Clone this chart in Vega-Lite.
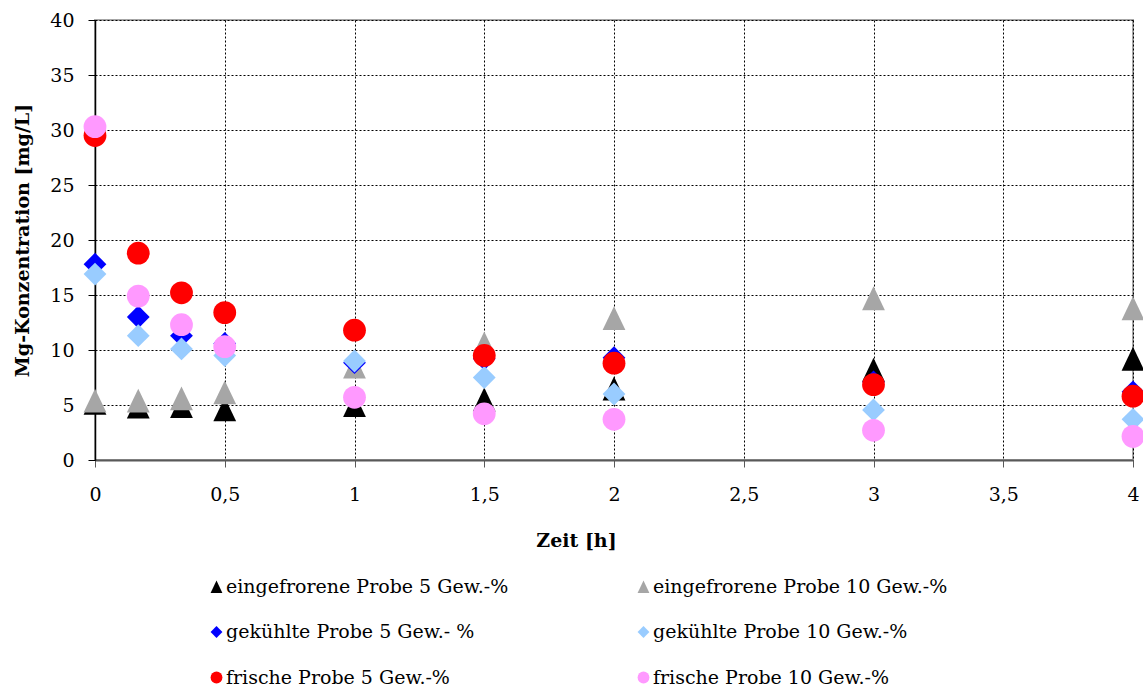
{
  "$schema": "https://vega.github.io/schema/vega-lite/v6.json",
  "autosize": {"type": "none"},
  "padding": {"left": 95, "top": 20, "right": 10, "bottom": 231},
  "width": 1038,
  "height": 440,
  "background": "white",
  "config": {
    "view": {"stroke": "#a6a6a6", "strokeWidth": 2},
    "font": "DejaVu Serif"
  },
  "data": {
    "values": [
      {"t": 0, "v": 5.2, "s": "eingefrorene Probe 5 Gew.-%"},
      {"t": 0.1667, "v": 4.85, "s": "eingefrorene Probe 5 Gew.-%"},
      {"t": 0.3333, "v": 4.9, "s": "eingefrorene Probe 5 Gew.-%"},
      {"t": 0.5, "v": 4.6, "s": "eingefrorene Probe 5 Gew.-%"},
      {"t": 1, "v": 5.0, "s": "eingefrorene Probe 5 Gew.-%"},
      {"t": 1.5, "v": 5.5, "s": "eingefrorene Probe 5 Gew.-%"},
      {"t": 2, "v": 6.5, "s": "eingefrorene Probe 5 Gew.-%"},
      {"t": 3, "v": 8.2, "s": "eingefrorene Probe 5 Gew.-%"},
      {"t": 4, "v": 9.2, "s": "eingefrorene Probe 5 Gew.-%"},
      {"t": 0, "v": 5.4, "s": "eingefrorene Probe 10 Gew.-%"},
      {"t": 0.1667, "v": 5.4, "s": "eingefrorene Probe 10 Gew.-%"},
      {"t": 0.3333, "v": 5.6, "s": "eingefrorene Probe 10 Gew.-%"},
      {"t": 0.5, "v": 6.15, "s": "eingefrorene Probe 10 Gew.-%"},
      {"t": 1, "v": 8.5, "s": "eingefrorene Probe 10 Gew.-%"},
      {"t": 1.5, "v": 10.6, "s": "eingefrorene Probe 10 Gew.-%"},
      {"t": 2, "v": 12.9, "s": "eingefrorene Probe 10 Gew.-%"},
      {"t": 3, "v": 14.7, "s": "eingefrorene Probe 10 Gew.-%"},
      {"t": 4, "v": 13.8, "s": "eingefrorene Probe 10 Gew.-%"},
      {"t": 0, "v": 17.8, "s": "gekühlte Probe 5 Gew.- %"},
      {"t": 0.1667, "v": 13.0, "s": "gekühlte Probe 5 Gew.- %"},
      {"t": 0.3333, "v": 11.3, "s": "gekühlte Probe 5 Gew.- %"},
      {"t": 0.5, "v": 10.6, "s": "gekühlte Probe 5 Gew.- %"},
      {"t": 1, "v": 8.85, "s": "gekühlte Probe 5 Gew.- %"},
      {"t": 1.5, "v": 9.2, "s": "gekühlte Probe 5 Gew.- %"},
      {"t": 2, "v": 9.3, "s": "gekühlte Probe 5 Gew.- %"},
      {"t": 3, "v": 7.1, "s": "gekühlte Probe 5 Gew.- %"},
      {"t": 4, "v": 6.2, "s": "gekühlte Probe 5 Gew.- %"},
      {"t": 0, "v": 16.9, "s": "gekühlte Probe 10 Gew.-%"},
      {"t": 0.1667, "v": 11.3, "s": "gekühlte Probe 10 Gew.-%"},
      {"t": 0.3333, "v": 10.1, "s": "gekühlte Probe 10 Gew.-%"},
      {"t": 0.5, "v": 9.5, "s": "gekühlte Probe 10 Gew.-%"},
      {"t": 1, "v": 9.0, "s": "gekühlte Probe 10 Gew.-%"},
      {"t": 1.5, "v": 7.5, "s": "gekühlte Probe 10 Gew.-%"},
      {"t": 2, "v": 6.0, "s": "gekühlte Probe 10 Gew.-%"},
      {"t": 3, "v": 4.55, "s": "gekühlte Probe 10 Gew.-%"},
      {"t": 4, "v": 3.7, "s": "gekühlte Probe 10 Gew.-%"},
      {"t": 0, "v": 29.5, "s": "frische Probe 5 Gew.-%"},
      {"t": 0.1667, "v": 18.8, "s": "frische Probe 5 Gew.-%"},
      {"t": 0.3333, "v": 15.2, "s": "frische Probe 5 Gew.-%"},
      {"t": 0.5, "v": 13.4, "s": "frische Probe 5 Gew.-%"},
      {"t": 1, "v": 11.8, "s": "frische Probe 5 Gew.-%"},
      {"t": 1.5, "v": 9.5, "s": "frische Probe 5 Gew.-%"},
      {"t": 2, "v": 8.8, "s": "frische Probe 5 Gew.-%"},
      {"t": 3, "v": 6.85, "s": "frische Probe 5 Gew.-%"},
      {"t": 4, "v": 5.8, "s": "frische Probe 5 Gew.-%"},
      {"t": 0, "v": 30.3, "s": "frische Probe 10 Gew.-%"},
      {"t": 0.1667, "v": 14.9, "s": "frische Probe 10 Gew.-%"},
      {"t": 0.3333, "v": 12.3, "s": "frische Probe 10 Gew.-%"},
      {"t": 0.5, "v": 10.3, "s": "frische Probe 10 Gew.-%"},
      {"t": 1, "v": 5.7, "s": "frische Probe 10 Gew.-%"},
      {"t": 1.5, "v": 4.2, "s": "frische Probe 10 Gew.-%"},
      {"t": 2, "v": 3.7, "s": "frische Probe 10 Gew.-%"},
      {"t": 3, "v": 2.7, "s": "frische Probe 10 Gew.-%"},
      {"t": 4, "v": 2.15, "s": "frische Probe 10 Gew.-%"}
    ]
  },
  "mark": {"type": "point", "filled": true, "opacity": 1, "size": 520},
  "encoding": {
    "x": {
      "field": "t",
      "type": "quantitative",
      "scale": {"domain": [0, 4], "nice": false, "zero": false},
      "axis": {
        "title": "Zeit [h]",
        "values": [0, 0.5, 1, 1.5, 2, 2.5, 3, 3.5, 4],
        "labelExpr": "replace(format(datum.value, '~g'), '.', ',')",
        "labelFont": "DejaVu Serif",
        "labelFontSize": 19,
        "labelColor": "#000",
        "labelPadding": 18,
        "labelFlush": false,
        "tickSize": 7,
        "tickColor": "#595959",
        "tickWidth": 1,
        "domainColor": "#595959",
        "domainWidth": 2,
        "grid": true,
        "gridColor": "#000",
        "gridDash": [2, 2],
        "gridWidth": 1,
        "gridOpacity": 1,
        "titleFont": "DejaVu Serif",
        "titleFontSize": 19,
        "titleFontWeight": "bold",
        "titleColor": "#000",
        "titleX": 481,
        "titleY": 80,
        "titleBaseline": "middle"
      }
    },
    "y": {
      "field": "v",
      "type": "quantitative",
      "scale": {"domain": [0, 40], "nice": false},
      "axis": {
        "title": "Mg-Konzentration [mg/L]",
        "values": [0, 5, 10, 15, 20, 25, 30, 35, 40],
        "labelFont": "DejaVu Serif",
        "labelFontSize": 19,
        "labelColor": "#000",
        "labelPadding": 14,
        "labelFlush": false,
        "tickSize": 7,
        "tickColor": "#000",
        "tickWidth": 1,
        "domainColor": "#000",
        "domainWidth": 1.5,
        "grid": true,
        "gridColor": "#000",
        "gridDash": [2, 2],
        "gridWidth": 1,
        "gridOpacity": 1,
        "titleFont": "DejaVu Serif",
        "titleFontSize": 19,
        "titleFontWeight": "bold",
        "titleColor": "#000",
        "titleX": -73,
        "titleBaseline": "middle"
      }
    },
    "color": {
      "field": "s",
      "type": "nominal",
      "scale": {
        "domain": [
          "eingefrorene Probe 5 Gew.-%",
          "eingefrorene Probe 10 Gew.-%",
          "gekühlte Probe 5 Gew.- %",
          "gekühlte Probe 10 Gew.-%",
          "frische Probe 5 Gew.-%",
          "frische Probe 10 Gew.-%"
        ],
        "range": ["#000000", "#a6a6a6", "#0000ff", "#99ccff", "#ff0000", "#ff99ff"]
      },
      "legend": {
        "title": null,
        "orient": "none",
        "direction": "horizontal",
        "legendX": 112,
        "legendY": 557,
        "columns": 2,
        "columnPadding": 125,
        "rowPadding": 25.5,
        "padding": 0,
        "symbolSize": 140,
        "symbolStrokeWidth": 0,
        "labelFont": "DejaVu Serif",
        "labelFontSize": 19,
        "labelColor": "#000",
        "labelOffset": 0,
        "labelLimit": 400
      }
    },
    "shape": {
      "field": "s",
      "type": "nominal",
      "scale": {
        "domain": [
          "eingefrorene Probe 5 Gew.-%",
          "eingefrorene Probe 10 Gew.-%",
          "gekühlte Probe 5 Gew.- %",
          "gekühlte Probe 10 Gew.-%",
          "frische Probe 5 Gew.-%",
          "frische Probe 10 Gew.-%"
        ],
        "range": ["M0,-1.05L-1,1.05L1,1.05Z", "M0,-1.05L-1,1.05L1,1.05Z", "diamond", "diamond", "circle", "circle"]
      },
      "legend": null
    }
  }
}
